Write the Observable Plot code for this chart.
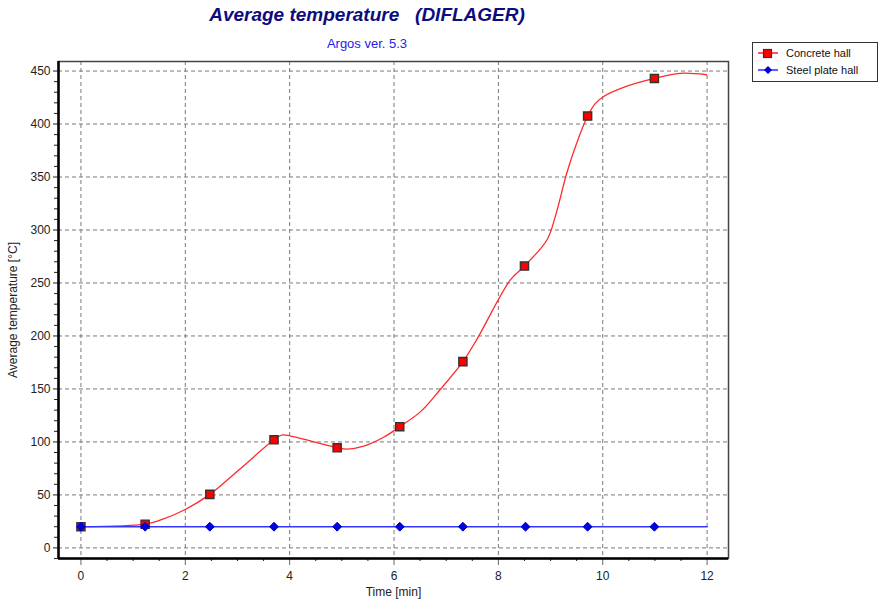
<!DOCTYPE html>
<html>
<head>
<meta charset="utf-8">
<script src="https://cdn.jsdelivr.net/npm/d3@7"></script>
<script src="https://cdn.jsdelivr.net/npm/@observablehq/plot@0.6"></script>
<style>
  body { margin: 0; background: #fff; font-family: "Liberation Sans", Arial, sans-serif; }
  #wrap { position: relative; width: 878px; height: 605px; }
  #title { position: absolute; left: 0; top: 4px; width: 734px; text-align: center; white-space: pre;
           font: italic bold 19px "Liberation Sans", Arial, sans-serif; color: #0c0c7e; }
  #subtitle { position: absolute; left: 0; top: 36px; width: 734px; text-align: center;
              font: 13px "Liberation Sans", Arial, sans-serif; color: #2222ee; }
  #chart { position: absolute; left: 0; top: 55px; }
  #legend { position: absolute; left: 752px; top: 42px; width: 124px; height: 38px; border: 1px solid #333;
            font: 11px "Liberation Sans", Arial, sans-serif; color: #111; background: #fff; }
  .li { position: absolute; left: 4px; height: 14px; display: flex; align-items: center; white-space: nowrap; }
  .li svg { margin-right: 7px; }
</style>
</head>
<body>
<div id="wrap">
  <div id="title">Average temperature   (DIFLAGER)</div>
  <div id="subtitle">Argos ver. 5.3</div>
  <div id="chart"></div>
  <div id="legend">
    <div class="li" style="top:3px"><svg width="22" height="12"><line x1="1" y1="6" x2="21" y2="6" stroke="#ff2020" stroke-width="1.5"/><rect x="6.5" y="2.5" width="8" height="8" fill="#ff0000" stroke="#333" stroke-width="1.2"/></svg>Concrete hall</div>
    <div class="li" style="top:20px"><svg width="22" height="12"><line x1="1" y1="6" x2="21" y2="6" stroke="#2a2aff" stroke-width="1.5"/><path d="M11,2 L15,6 L11,10 L7,6 Z" fill="#0000dd"/></svg>Steel plate hall</div>
  </div>
</div>
<script>
// Concrete hall: dense curve points (time [min], temperature [°C])
const concreteLineT = [0, 1.23, 1.53, 1.98, 2.47, 3.06, 3.7, 3.86, 4.02, 4.47, 4.91, 5.1, 5.42, 5.8, 6.11, 6.51, 6.89, 7.32, 7.59, 8.23, 8.5, 8.93, 9.09, 9.31, 9.5, 9.71, 9.86, 10.01, 10.4, 10.99, 11.48, 11.99];
const concreteLineV = [20, 22.4, 26.4, 35.8, 50.5, 75, 102, 106.6, 105.5, 100, 94.5, 93.2, 96, 104.4, 114.4, 128.6, 149.7, 175.8, 197, 253, 266, 290.6, 312.6, 353.5, 381.8, 407.5, 419.5, 425.8, 434.6, 443, 447.8, 446.5];
// Concrete hall markers
const concreteMarkT = [0, 1.23, 2.47, 3.7, 4.91, 6.11, 7.32, 8.5, 9.71, 10.99];
const concreteMarkV = [20, 22.4, 50.5, 102, 94.5, 114.4, 175.8, 266, 407.5, 443];
// Steel plate hall
const steelLineT = [0, 12];
const steelLineV = [20, 20];
const steelMarkT = [0, 1.23, 2.47, 3.7, 4.91, 6.11, 7.32, 8.52, 9.71, 10.99];
const steelMarkV = [20, 20, 20, 20, 20, 20, 20, 20, 20, 20];
// Ticks
const xMajor = [0, 2, 4, 6, 8, 10, 12];
const xMinor = [0.5, 1, 1.5, 2.5, 3, 3.5, 4.5, 5, 5.5, 6.5, 7, 7.5, 8.5, 9, 9.5, 10.5, 11, 11.5];
const yMajor = [0, 50, 100, 150, 200, 250, 300, 350, 400, 450];
const yMinor = d3.range(-10, 460, 10).filter(v => v % 50 !== 0);

const xDom = [-0.43, 12.41], yDom = [-10, 459];
const concreteLine = concreteLineT.map((t, i) => ({t, v: concreteLineV[i]}));
const concreteMarks = concreteMarkT.map((t, i) => ({t, v: concreteMarkV[i]}));
const steelLine = steelLineT.map((t, i) => ({t, v: steelLineV[i]}));
const steelMarks = steelMarkT.map((t, i) => ({t, v: steelMarkV[i]}));

const grid = {stroke: "#7a7a7a", strokeOpacity: 1, strokeDasharray: "4,3"};
const chart = Plot.plot({
  width: 878, height: 550,
  marginLeft: 58, marginRight: 150, marginTop: 6, marginBottom: 47,
  x: {domain: xDom},
  y: {domain: yDom},
  style: {fontFamily: "'Liberation Sans', Arial, sans-serif", fontSize: "12px", color: "#222", background: "white"},
  marks: [
    Plot.gridX(xMajor, grid),
    Plot.gridY(yMajor, grid),
    Plot.frame({stroke: "#444", strokeWidth: 1.5}),
    Plot.axisY(yMinor, {tickSize: 4, tickFormat: () => "", label: null, stroke: "#222"}),
    Plot.axisY(yMajor, {tickSize: 5, tickPadding: 3, label: "Average temperature [°C]", labelAnchor: "center", labelArrow: "none", labelOffset: 50, stroke: "#222"}),
    Plot.axisX(xMinor, {tickSize: 3, tickFormat: () => "", label: null, stroke: "#222"}),
    Plot.axisX(xMajor, {tickSize: 7, tickPadding: 6, label: "Time [min]", labelAnchor: "center", labelArrow: "none", labelOffset: 37, stroke: "#666"}),
    Plot.ruleX([xDom[0]], {stroke: "black", strokeWidth: 2.5}),
    Plot.ruleY([yDom[0]], {stroke: "black", strokeWidth: 2.5}),
    Plot.line(concreteLine, {x: "t", y: "v", stroke: "#ff2a2a", strokeWidth: 1.3, curve: "catmull-rom"}),
    Plot.line(steelLine, {x: "t", y: "v", stroke: "#3535ff", strokeWidth: 1.6}),
    Plot.dot(concreteMarks, {x: "t", y: "v", symbol: "square", r: 4.6, fill: "#ff0000", stroke: "#333", strokeWidth: 1.4}),
    Plot.dot(steelMarks, {x: "t", y: "v", symbol: "diamond2", r: 4, fill: "#0000e0", stroke: "#0000c0", strokeWidth: 1})
  ]
});
document.getElementById("chart").appendChild(chart);
</script>
</body>
</html>
